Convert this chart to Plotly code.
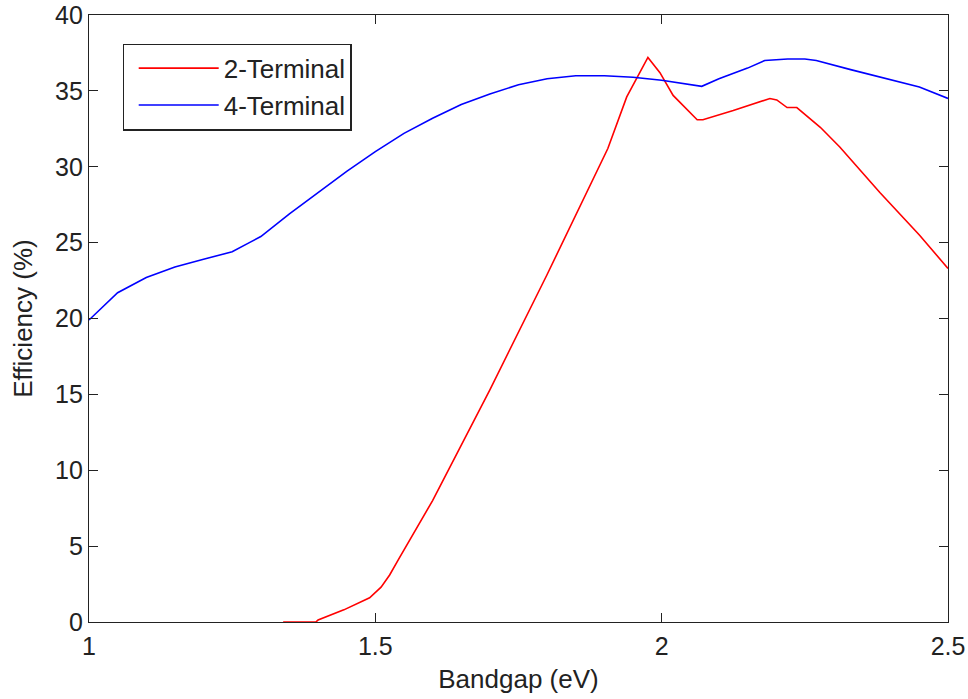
import plotly.graph_objects as go

# Bandgap sweep (eV) and efficiency (%) for the two tandem configurations
bandgap_2t = [1.339, 1.396, 1.40, 1.445, 1.49, 1.51, 1.525, 1.54, 1.60, 1.70, 1.80,
              1.906, 1.939, 1.976, 1.997, 2.020, 2.062, 2.072, 2.125, 2.189, 2.201,
              2.219, 2.236, 2.277, 2.311, 2.381, 2.45, 2.50]
eff_2t = [0.0, 0.0, 0.13, 0.8, 1.6, 2.3, 3.1, 4.1, 8.0, 15.3, 22.9,
          31.2, 34.6, 37.2, 36.2, 34.7, 33.1, 33.1, 33.7, 34.5, 34.4,
          33.9, 33.9, 32.6, 31.3, 28.3, 25.5, 23.3]

bandgap_4t = [1.00, 1.05, 1.10, 1.15, 1.20, 1.25, 1.28, 1.30, 1.35, 1.40, 1.45,
              1.50, 1.55, 1.60, 1.65, 1.70, 1.75, 1.80, 1.85, 1.90, 1.95,
              2.00, 2.07, 2.10, 2.15, 2.18, 2.22, 2.25, 2.27, 2.33, 2.39,
              2.45, 2.50]
eff_4t = [19.9, 21.7, 22.7, 23.4, 23.9, 24.4, 25.0, 25.4, 26.9, 28.3, 29.7,
          31.0, 32.2, 33.2, 34.1, 34.8, 35.4, 35.8, 36.0, 36.0, 35.9,
          35.7, 35.3, 35.8, 36.5, 37.0, 37.1, 37.1, 37.0, 36.4, 35.8,
          35.25, 34.5]

x_ticks = [1, 1.5, 2, 2.5]
x_tick_text = ["1", "1.5", "2", "2.5"]
y_ticks = [0, 5, 10, 15, 20, 25, 30, 35, 40]

font_family = "Liberation Sans, Arial, sans-serif"
text_color = "#222222"
font_size = 25

fig = go.Figure()
fig.add_trace(go.Scatter(x=bandgap_2t, y=eff_2t, mode="lines", name="2-Terminal",
                         line=dict(color="#ff0000", width=1.6)))
fig.add_trace(go.Scatter(x=bandgap_4t, y=eff_4t, mode="lines", name="4-Terminal",
                         line=dict(color="#0000ff", width=1.6)))

axis_common = dict(
    showgrid=False, zeroline=False, showline=True, linecolor=text_color, linewidth=1.2,
    mirror="ticks", ticks="inside", ticklen=9, tickcolor=text_color, tickwidth=1.2,
    automargin=False,
    tickfont=dict(family=font_family, size=font_size, color=text_color),
)

fig.update_layout(
    width=968, height=699,
    margin=dict(l=89, r=20, t=15, b=77),
    paper_bgcolor="white", plot_bgcolor="white",
    font=dict(family=font_family, size=font_size, color=text_color),
    xaxis=dict(range=[1, 2.5], tickvals=x_ticks, ticktext=x_tick_text,
               ticklabelstandoff=2,
               title=dict(text="Bandgap (eV)", standoff=10,
                          font=dict(family=font_family, size=26)),
               **axis_common),
    yaxis=dict(range=[0, 40], tickvals=y_ticks,
               title=dict(text="Efficiency (%)", standoff=14,
                          font=dict(family=font_family, size=26)),
               **axis_common),
    legend=dict(x=0.039, y=0.953, xanchor="left", yanchor="top",
                bordercolor=text_color, borderwidth=1.2, bgcolor="white",
                font=dict(family=font_family, size=26, color=text_color),
                itemwidth=80, indentation=10, tracegroupgap=0),
    showlegend=True,
)

fig.write_html("out.html")
